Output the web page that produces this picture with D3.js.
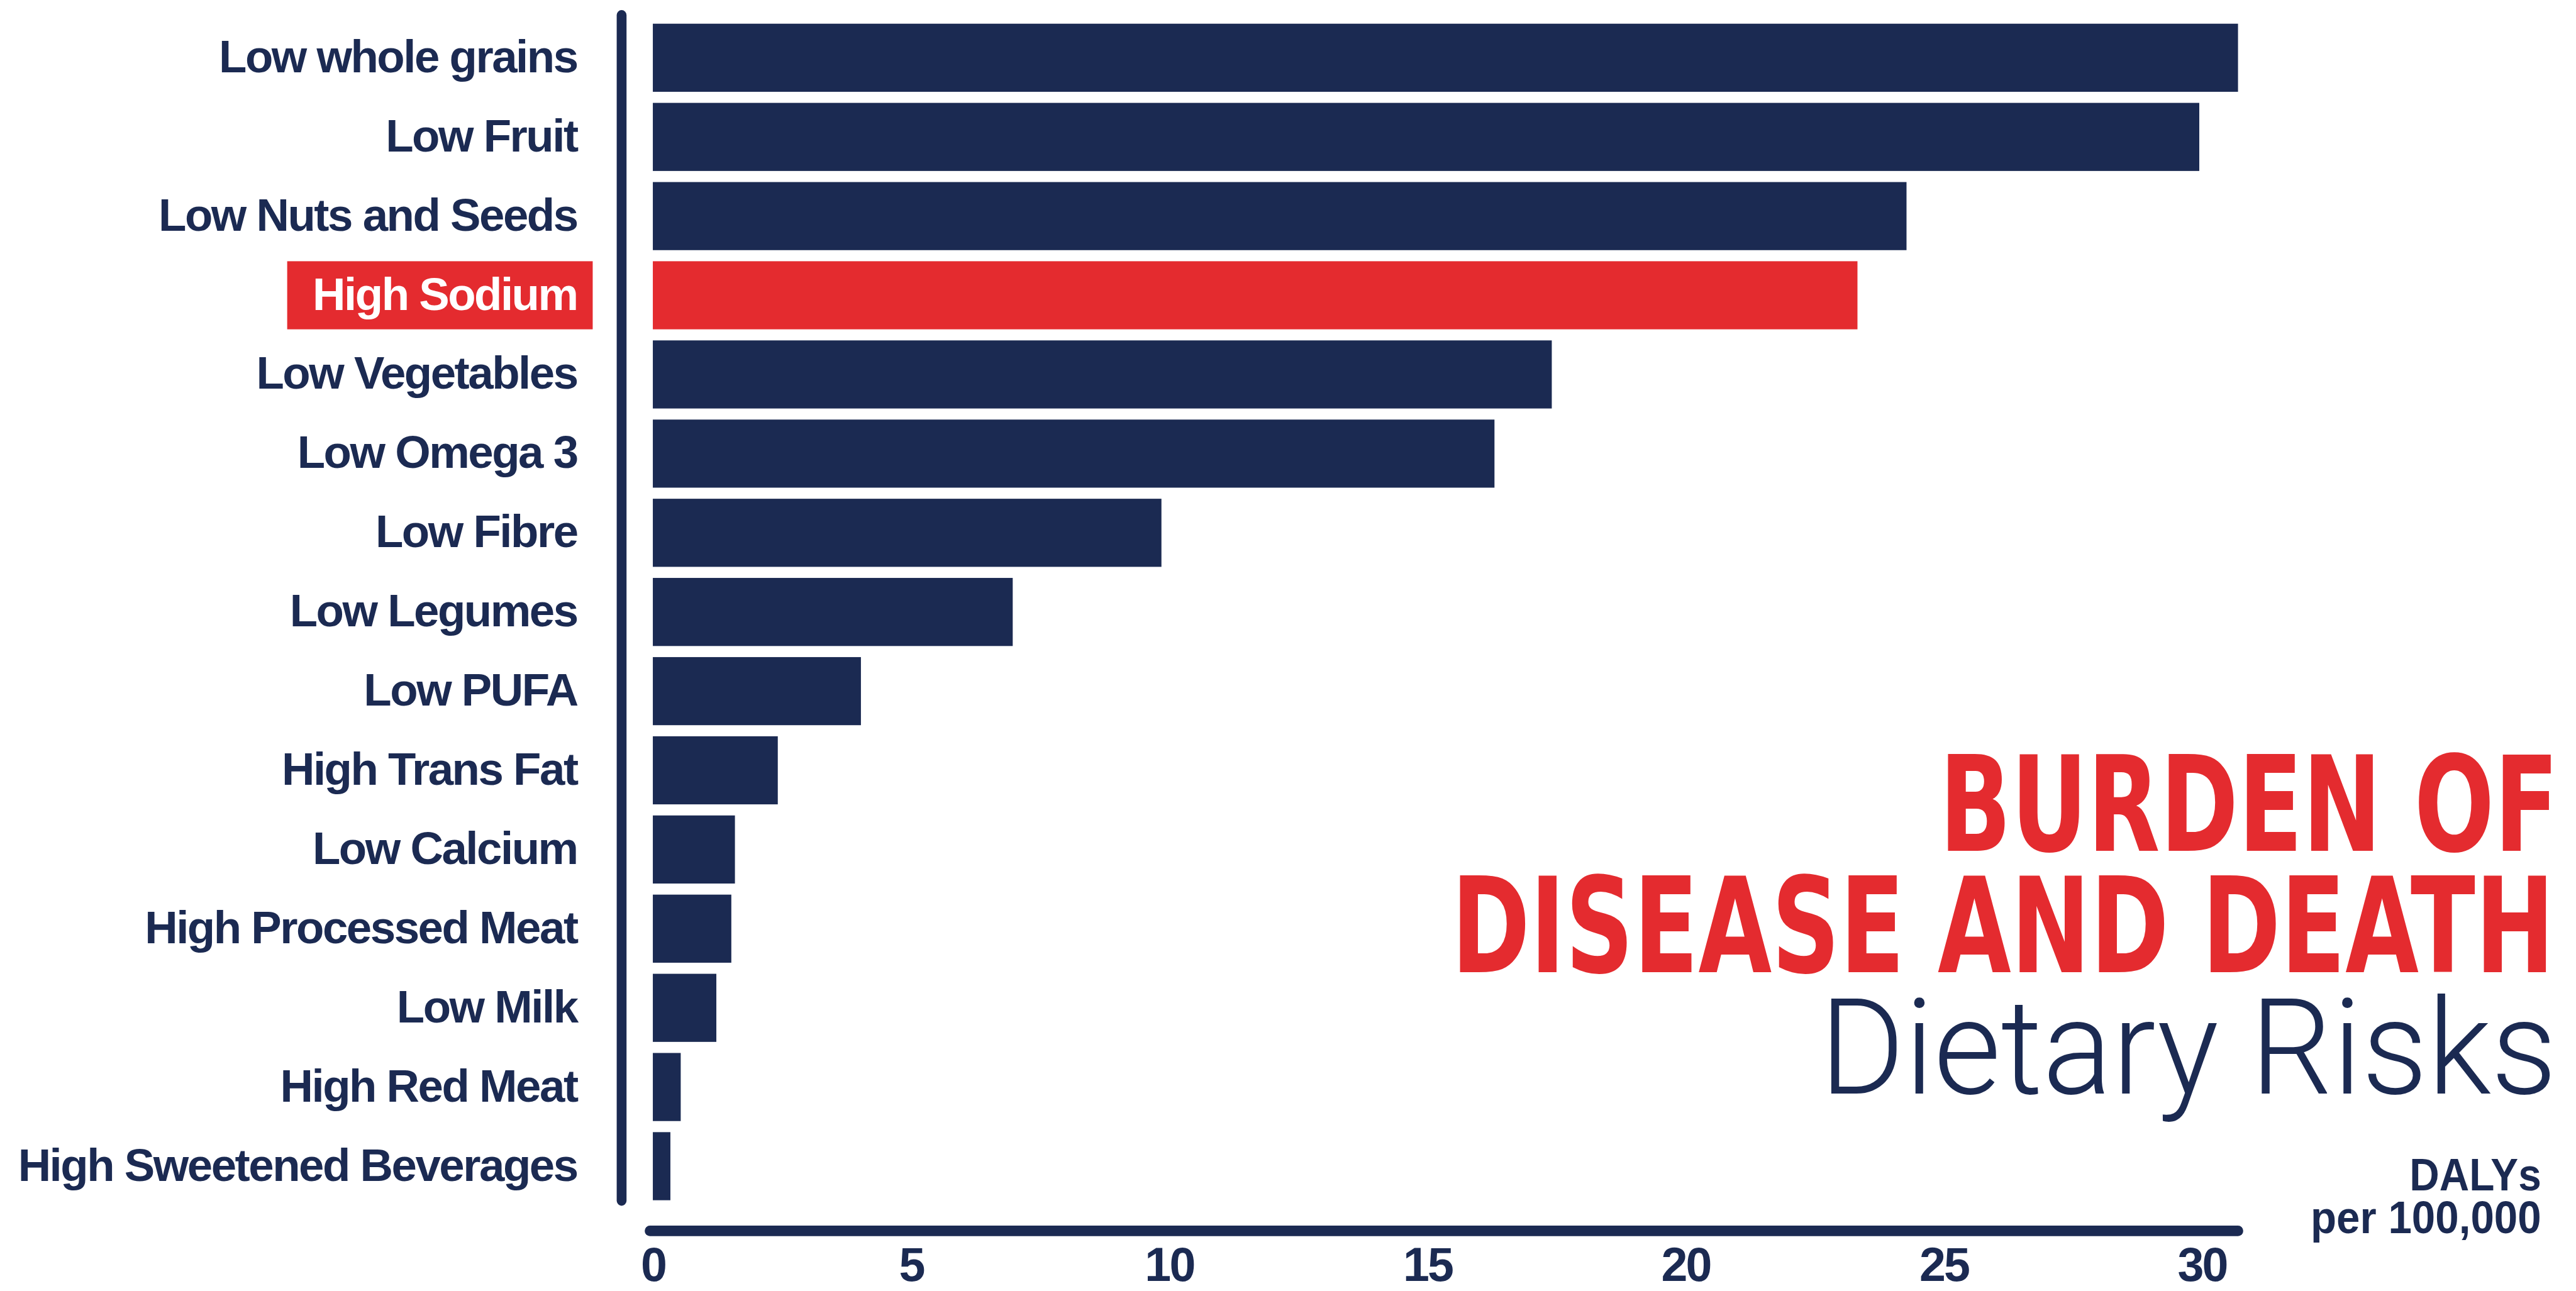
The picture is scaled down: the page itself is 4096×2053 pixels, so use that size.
<!DOCTYPE html>
<html>
<head>
<meta charset="utf-8">
<script src="https://cdn.jsdelivr.net/npm/d3@7/dist/d3.min.js"></script>
<style>
  html, body { margin: 0; padding: 0; background: #ffffff; }
  svg { display: block; }
</style>
</head>
<body>
<svg id="chart"></svg>
<script>
// Dietary risk factors, ordered by burden (DALYs per 100,000)
const categories = [
  "Low whole grains", "Low Fruit", "Low Nuts and Seeds", "High Sodium",
  "Low Vegetables", "Low Omega 3", "Low Fibre", "Low Legumes", "Low PUFA",
  "High Trans Fat", "Low Calcium", "High Processed Meat", "Low Milk",
  "High Red Meat", "High Sweetened Beverages"
];
const dalys = [30.7, 29.95, 24.28, 23.33, 17.41, 16.3, 9.85, 6.97, 4.03,
               2.42, 1.59, 1.52, 1.23, 0.54, 0.34];
const highlighted = "High Sodium";
const tickValues = [0, 5, 10, 15, 20, 25, 30];
const titleLines = ["BURDEN OF", "DISEASE AND DEATH"];
const subtitle = "Dietary Risks";
const unitLines = ["DALYs", "per 100,000"];

const W = 4455, H = 2233;
const NAVY = "#1b2a52", RED = "#e42b2f";

const svg = d3.select("#chart")
  .attr("width", 4096).attr("height", 2053)
  .attr("viewBox", `0 0 ${W} ${H}`);

const x = d3.scaleLinear().domain([0, 30]).range([1129, 3808]);
const y = d3.scaleBand().domain(categories).range([41, 2076])
  .paddingInner(0.14).paddingOuter(0);

const rows = categories.map((c, i) => ({ name: c, value: dalys[i] }));

// bars
svg.append("g").selectAll("rect").data(rows).join("rect")
  .attr("x", x(0))
  .attr("y", d => y(d.name))
  .attr("width", d => x(d.value) - x(0))
  .attr("height", y.bandwidth())
  .attr("fill", d => d.name === highlighted ? RED : NAVY);

// category labels (highlighted one sits on a red tag)
const labelFont = "'Liberation Sans', Arial, Helvetica, sans-serif";
const labels = svg.append("g");
const labelRight = 998;
rows.forEach(d => {
  const t = labels.append("text")
    .attr("x", labelRight)
    .attr("y", y(d.name) + y.bandwidth() / 2 + 25)
    .attr("text-anchor", "end")
    .attr("font-family", labelFont)
    .attr("font-weight", 700)
    .attr("font-size", 79)
    .attr("letter-spacing", -2.7)
    .attr("fill", d.name === highlighted ? "#ffffff" : NAVY)
    .text(d.name);
  if (d.name === highlighted) {
    const bb = t.node().getBBox();
    labels.insert("rect", "text")
      .attr("x", bb.x - 44)
      .attr("y", y(d.name))
      .attr("width", 1025 - (bb.x - 44))
      .attr("height", y.bandwidth())
      .attr("fill", RED);
  }
});

// vertical axis rule
svg.append("line")
  .attr("x1", 1075).attr("x2", 1075)
  .attr("y1", 26).attr("y2", 2077)
  .attr("stroke", NAVY).attr("stroke-width", 17)
  .attr("stroke-linecap", "round");

// horizontal axis rule
svg.append("line")
  .attr("x1", x(0) - 5).attr("x2", x(d3.max(dalys)))
  .attr("y1", 2129).attr("y2", 2129)
  .attr("stroke", NAVY).attr("stroke-width", 18)
  .attr("stroke-linecap", "round");

// tick labels
const axis = svg.append("g")
  .attr("transform", "translate(0,2129)")
  .call(d3.axisBottom(x).tickValues(tickValues).tickSize(0).tickFormat(d3.format("d")));
axis.select(".domain").remove();
axis.selectAll("text")
  .attr("y", 87).attr("dy", 0)
  .attr("fill", NAVY)
  .attr("font-family", labelFont)
  .attr("font-weight", 700)
  .attr("font-size", 82)
  .attr("letter-spacing", -3);

// title block
const condensed = "'Liberation Sans Narrow', 'DejaVu Sans Condensed', 'Liberation Sans', sans-serif";
const titleSpecs = [
  { text: titleLines[0], right: 4425, base: 1472, width: 1071 },
  { text: titleLines[1], right: 4418, base: 1682, width: 1908 }
];
titleSpecs.forEach(s => {
  svg.append("text")
    .attr("x", s.right - s.width).attr("y", s.base)
    .attr("font-family", condensed)
    .attr("font-stretch", "condensed")
    .attr("font-weight", 700)
    .attr("font-size", 229)
    .attr("textLength", s.width)
    .attr("lengthAdjust", "spacingAndGlyphs")
    .attr("fill", RED)
    .text(s.text);
});

svg.append("text")
  .attr("x", 3147).attr("y", 1891)
  .attr("font-family", "Roboto, 'Open Sans', Lato, sans-serif")
  .attr("font-weight", 300)
  .attr("font-size", 231)
  .attr("textLength", 1275)
  .attr("lengthAdjust", "spacingAndGlyphs")
  .attr("fill", NAVY)
  .text(subtitle);

// unit note
[{ text: unitLines[0], base: 2059, width: 228 },
 { text: unitLines[1], base: 2133, width: 399 }].forEach(s => {
  svg.append("text")
    .attr("x", 4395 - s.width).attr("y", s.base)
    .attr("font-family", labelFont)
    .attr("font-weight", 700)
    .attr("font-size", 78)
    .attr("textLength", s.width)
    .attr("lengthAdjust", "spacingAndGlyphs")
    .attr("fill", NAVY)
    .text(s.text);
});
</script>
</body>
</html>
